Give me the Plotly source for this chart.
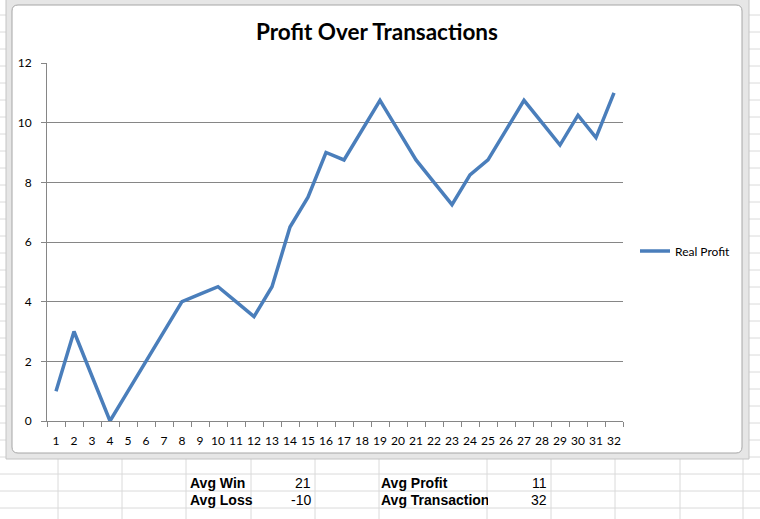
import plotly.graph_objects as go

# data
transactions = [str(i) for i in range(1, 33)]
real_profit = [1, 3, 1.5, 0, 1, 2, 3, 4, 4.25, 4.5, 4, 3.5, 4.5, 6.5, 7.5, 9,
               8.75, 9.75, 10.75, 9.75, 8.75, 8, 7.25, 8.25, 8.75, 9.75, 10.75,
               10, 9.25, 10.25, 9.5, 11]

# little stats table under the chart
stat_labels_left = ["Avg Win", "Avg Loss"]
stat_values_left = ["21", "-10"]
stat_labels_right = ["Avg Profit", "Avg Transactions"]
stat_values_right = ["11", "32"]

W, H = 760, 519
L, R, T, B = 47, 623, 63, 421  # plot area in pixels


def px(x):
    return (x - L) / (R - L)


def py(y):
    return (B - y) / (B - T)


AXIS_GREY = "#868686"
CELL_GREY = "#dadada"

fig = go.Figure()
fig.add_trace(go.Scatter(x=transactions, y=real_profit, mode="lines",
                         name="Real Profit",
                         line=dict(color="#4a7ebb", width=3.5)))

shapes = []
# spreadsheet grid behind the chart
for yy in range(15, H, 17):
    shapes.append(dict(type="line", xref="paper", yref="paper",
                       x0=px(0), x1=px(W), y0=py(yy), y1=py(yy),
                       line=dict(color=CELL_GREY, width=1), layer="below"))
for xx in [58, 122, 186, 251, 315, 379, 487, 551, 615, 680, 743]:
    shapes.append(dict(type="line", xref="paper", yref="paper",
                       x0=px(xx), x1=px(xx), y0=py(0), y1=py(H),
                       line=dict(color=CELL_GREY, width=1), layer="below"))

# chart frame
shapes.append(dict(type="rect", xref="paper", yref="paper",
                   x0=px(6), x1=px(749), y0=py(-5), y1=py(459),
                   fillcolor="#e6e6e6", line=dict(color="#c4c4c4", width=1),
                   layer="below"))
x0, x1, y0, y1, r = px(12), px(742), py(5), py(453), 6
rx, ry = r / (R - L), r / (B - T)
path = (f"M {x0 + rx},{y0} L {x1 - rx},{y0} Q {x1},{y0} {x1},{y0 - ry} "
        f"L {x1},{y1 + ry} Q {x1},{y1} {x1 - rx},{y1} "
        f"L {x0 + rx},{y1} Q {x0},{y1} {x0},{y1 + ry} "
        f"L {x0},{y0 - ry} Q {x0},{y0} {x0 + rx},{y0} Z")
shapes.append(dict(type="path", xref="paper", yref="paper", path=path,
                   fillcolor="white", line=dict(color="#a6a6a6", width=1),
                   layer="below"))

annotations = []
cell_font = dict(family="Liberation Sans Narrow, Arial Narrow, sans-serif",
                 size=14, color="black")
for i in range(2):
    yy = 482.5 + 17 * i
    annotations.append(dict(text="<b>" + stat_labels_left[i] + "</b>",
                            xref="paper", yref="paper", x=px(188), y=py(yy),
                            xanchor="left", yanchor="middle", showarrow=False,
                            font=cell_font))
    annotations.append(dict(text=stat_values_left[i],
                            xref="paper", yref="paper", x=px(313), y=py(yy),
                            xanchor="right", yanchor="middle", showarrow=False,
                            font=cell_font))
    # text that spills past its cell is cut at the column border
    annotations.append(dict(text="<b>" + stat_labels_right[i] + "</b>",
                            xref="paper", yref="paper", x=px(379), y=py(yy),
                            xanchor="left", yanchor="middle", showarrow=False,
                            width=107, align="left", font=cell_font))
    annotations.append(dict(text=stat_values_right[i],
                            xref="paper", yref="paper", x=px(549), y=py(yy),
                            xanchor="right", yanchor="middle", showarrow=False,
                            font=cell_font))

fig.update_layout(
    width=W, height=H,
    margin=dict(l=L, r=W - R, t=T, b=H - B, pad=0),
    paper_bgcolor="white", plot_bgcolor="white",
    font=dict(family="Lato, Noto Sans, sans-serif", size=12, color="black"),
    title=dict(text="<b>Profit Over Transactions</b>", x=377 / W,
               xref="container", xanchor="center", y=1 - 32 / H,
               yref="container", yanchor="middle",
               font=dict(family="Lato, Noto Sans, sans-serif", size=22.5,
                         color="black")),
    showlegend=True,
    legend=dict(x=px(635), y=py(251), xanchor="left", yanchor="middle",
                bgcolor="rgba(0,0,0,0)", font=dict(size=12)),
    shapes=shapes,
    annotations=annotations,
)
fig.update_xaxes(type="category", range=[-0.5, len(transactions) - 0.5],
                 tickson="boundaries", ticks="outside",
                 ticklen=5, tickcolor=AXIS_GREY, showline=True,
                 linecolor=AXIS_GREY, linewidth=1, showgrid=False,
                 ticklabelstandoff=9, tickangle=0)
fig.update_yaxes(range=[0, 12], dtick=2, ticks="outside", ticklen=5,
                 tickcolor=AXIS_GREY, showline=True, linecolor=AXIS_GREY,
                 linewidth=1, showgrid=True, gridcolor=AXIS_GREY, gridwidth=1,
                 zeroline=False, ticklabelstandoff=7)

# the page's default body margin would shift the figure by 8px
fig.write_html("out.html", config={"displayModeBar": False},
               post_script="document.body.style.margin='0';")
